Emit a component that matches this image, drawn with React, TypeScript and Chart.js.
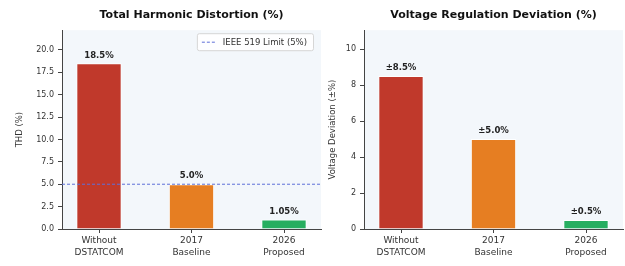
import React, { useEffect, useRef } from 'react';
import { Chart, registerables } from 'chart.js';

Chart.register(...registerables);

// ---- data ----
const categories: string[][] = [
  ['Without', 'DSTATCOM'],
  ['2017', 'Baseline'],
  ['2026', 'Proposed'],
];
const thdValues = [18.5, 5.0, 1.05];
const thdLabels = ['18.5%', '5.0%', '1.05%'];
const voltValues = [8.5, 5.0, 0.5];
const voltLabels = ['±8.5%', '±5.0%', '±0.5%'];
const barColors = ['#c0392b', '#e67e22', '#27ae60'];
const thdTicks = [0, 2.5, 5, 7.5, 10, 12.5, 15, 17.5, 20];
const voltTicks = [0, 2, 4, 6, 8, 10];
const ieeeLimit = 5;
const ieeeLabel = 'IEEE 519 Limit (5%)';
const thdMax = 22.2;
const voltMax = 11.05;

const FONT = "'DejaVu Sans', sans-serif";
const AXIS_COLOR = '#444444';
const TEXT_COLOR = '#333333';

const bgPlugin = {
  id: 'plotBg',
  beforeDraw(chart: any) {
    const { ctx, chartArea } = chart;
    ctx.save();
    ctx.fillStyle = '#f3f7fb';
    ctx.fillRect(chartArea.left, chartArea.top, chartArea.right - chartArea.left, chartArea.bottom - chartArea.top);
    ctx.restore();
  },
};

function makeLabelPlugin(labels: string[]) {
  return {
    id: 'valueLabels',
    afterDatasetsDraw(chart: any) {
      const { ctx } = chart;
      const meta = chart.getDatasetMeta(0);
      ctx.save();
      ctx.font = `bold 8.5px ${FONT}`;
      ctx.fillStyle = '#222222';
      ctx.textAlign = 'center';
      ctx.textBaseline = 'middle';
      meta.data.forEach((bar: any, i: number) => {
        ctx.fillText(labels[i], bar.x, bar.y - 8);
      });
      ctx.restore();
    },
  };
}

const legendPlugin = {
  id: 'insideLegend',
  afterDraw(chart: any) {
    const ds = chart.data.datasets[1];
    if (!ds) return;
    const { ctx, chartArea } = chart;
    ctx.save();
    ctx.font = `8.5px ${FONT}`;
    const tw = ctx.measureText(ds.label).width;
    const w = tw + 32;
    const h = 17;
    const x = chartArea.right - 8 - w;
    const y = chartArea.top + 3;
    ctx.fillStyle = 'rgba(255,255,255,0.85)';
    ctx.strokeStyle = '#d6d6d6';
    ctx.lineWidth = 1;
    ctx.beginPath();
    (ctx as any).roundRect(x + 0.5, y + 0.5, w, h, 2);
    ctx.fill();
    ctx.stroke();
    ctx.strokeStyle = ds.borderColor;
    ctx.setLineDash(ds.borderDash);
    ctx.beginPath();
    ctx.moveTo(x + 5, y + h / 2 + 0.5);
    ctx.lineTo(x + 20, y + h / 2 + 0.5);
    ctx.stroke();
    ctx.setLineDash([]);
    ctx.fillStyle = TEXT_COLOR;
    ctx.textBaseline = 'middle';
    ctx.textAlign = 'left';
    ctx.fillText(ds.label, x + 26, y + h / 2 + 1);
    ctx.restore();
  },
};

type PanelProps = {
  left: number;
  width: number;
  yAxisWidth: number;
  padRight: number;
  values: number[];
  labels: string[];
  max: number;
  ticks: number[];
  decimals: number;
  yTitle: string;
  yTitlePad: number;
  title: string;
  limit?: number;
};

function BarPanel(p: PanelProps) {
  const ref = useRef<HTMLCanvasElement | null>(null);
  useEffect(() => {
    if (!ref.current) return;
    const datasets: any[] = [
      {
        type: 'bar',
        label: 'values',
        data: p.values.map((v, i) => ({ x: i, y: v })),
        backgroundColor: barColors,
        borderColor: 'rgba(255,255,255,0.9)',
        borderWidth: 1,
        categoryPercentage: 1,
        barPercentage: 0.49,
        order: 2,
      },
    ];
    if (p.limit !== undefined) {
      datasets.push({
        type: 'line',
        label: ieeeLabel,
        data: [
          { x: -0.4, y: p.limit },
          { x: 2.4, y: p.limit },
        ],
        borderColor: '#5d6fd8',
        borderWidth: 1,
        borderDash: [3, 2],
        pointRadius: 0,
        order: 1,
      });
    }
    const chart = new Chart(ref.current, {
      type: 'bar',
      data: { datasets },
      options: {
        animation: false,
        responsive: false,
        layout: { padding: { left: 0, right: p.padRight, top: 0, bottom: 0 } },
        plugins: {
          legend: { display: false },
          tooltip: { enabled: false },
          title: {
            display: true,
            text: p.title,
            fullSize: false,
            color: '#111111',
            font: { family: FONT, size: 11, weight: 'bold' },
            padding: { top: 9, bottom: 8 },
          },
        },
        scales: {
          x: {
            type: 'linear',
            min: -0.4,
            max: 2.4,
            offset: false,
            afterBuildTicks: (s: any) => {
              s.ticks = categories.map((_, i) => ({ value: i }));
            },
            afterFit: (s: any) => {
              s.height = 37;
            },
            ticks: {
              callback: (v: any) => categories[Math.round(Number(v))],
              font: { family: FONT, size: 9, lineHeight: 1.3 },
              color: TEXT_COLOR,
              padding: 2,
              maxRotation: 0,
              autoSkip: false,
            },
            grid: { display: true, offset: false, drawOnChartArea: false, drawTicks: true, tickLength: 4, color: AXIS_COLOR },
            border: { display: true, color: AXIS_COLOR, width: 1 },
          },
          y: {
            min: 0,
            max: p.max,
            afterBuildTicks: (s: any) => {
              s.ticks = p.ticks.map((v) => ({ value: v }));
            },
            afterFit: (s: any) => {
              s.width = p.yAxisWidth;
            },
            ticks: {
              callback: (v: any) => Number(v).toFixed(p.decimals),
              font: { family: FONT, size: 8 },
              color: TEXT_COLOR,
              padding: 4,
            },
            grid: { display: true, drawOnChartArea: false, drawTicks: true, tickLength: 4, color: AXIS_COLOR },
            border: { display: true, color: AXIS_COLOR, width: 1 },
            title: {
              display: true,
              text: p.yTitle,
              color: TEXT_COLOR,
              font: { family: FONT, size: 8.5 },
              padding: { top: p.yTitlePad, bottom: 0 },
            },
          },
        },
      } as any,
      plugins: [bgPlugin, makeLabelPlugin(p.labels), legendPlugin],
    });
    return () => chart.destroy();
  }, []);
  return (
    <canvas
      ref={ref}
      width={p.width}
      height={266}
      style={{ position: 'absolute', left: p.left, top: 0, width: p.width, height: 266, display: 'block' }}
    />
  );
}

export default function App() {
  return (
    <div style={{ position: 'fixed', left: 0, top: 0, width: 625, height: 266, background: '#ffffff', overflow: 'hidden' }}>
      <BarPanel
        left={0}
        width={325}
        yAxisWidth={62}
        padRight={4}
        values={thdValues}
        labels={thdLabels}
        max={thdMax}
        ticks={thdTicks}
        decimals={1}
        yTitle="THD (%)"
        yTitlePad={15}
        title="Total Harmonic Distortion (%)"
        limit={ieeeLimit}
      />
      <BarPanel
        left={320}
        width={305}
        yAxisWidth={44}
        padRight={2}
        values={voltValues}
        labels={voltLabels}
        max={voltMax}
        ticks={voltTicks}
        decimals={0}
        yTitle="Voltage Deviation (±%)"
        yTitlePad={8}
        title="Voltage Regulation Deviation (%)"
      />
    </div>
  );
}
